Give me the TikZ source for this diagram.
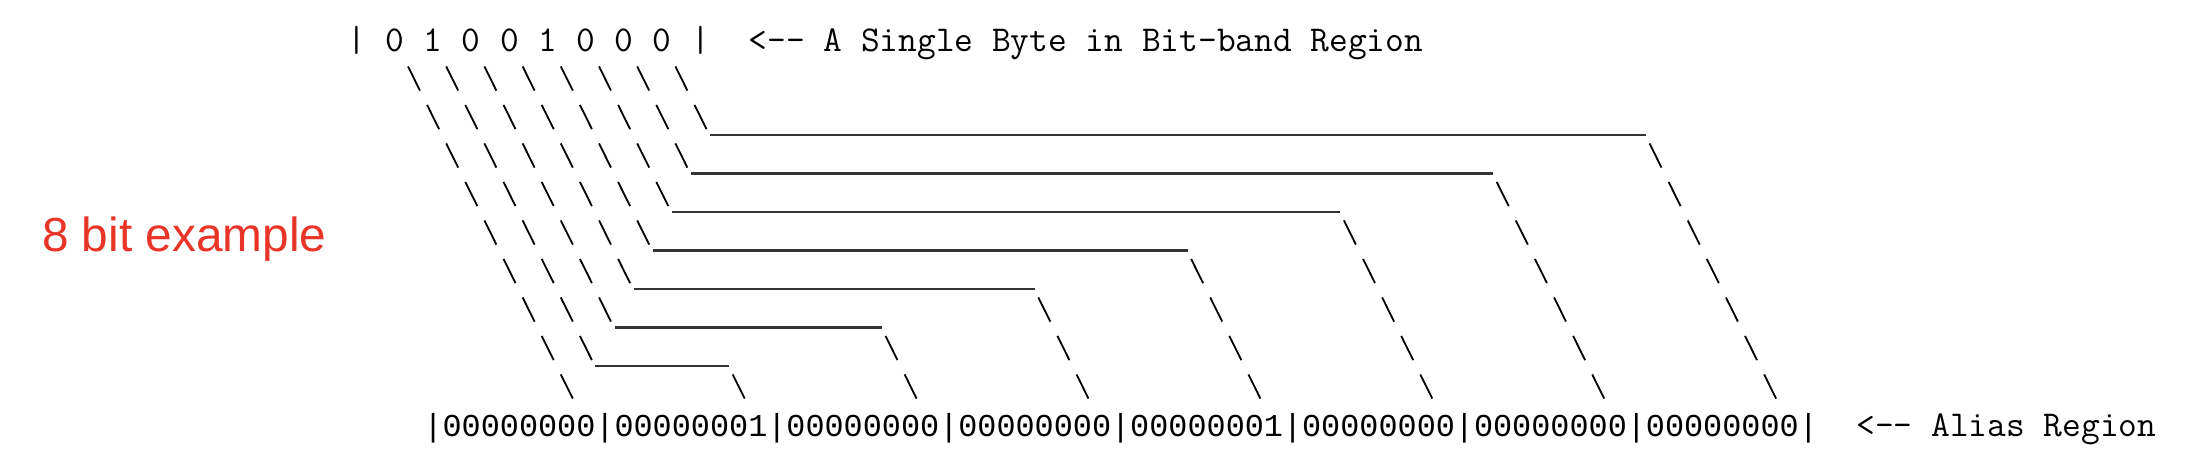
\documentclass[tikz,border=0pt]{standalone}
\usepackage{fontspec}
\usepackage{tikz}
\usetikzlibrary{calc}

\newfontfamily\asciifont{Liberation Mono}
\newfontfamily\notefont{Liberation Sans}
\definecolor{notered}{RGB}{232,53,39}

\tikzset{
  slab/.style={font=\ttfamily\fontsize{18.19pt}{20pt}\selectfont},
  slashes/.style={draw=black,line width=0.9pt,dash pattern=on 13.5pt off 7.99pt},
  uline/.style={draw=black!80,line width=1.1pt}
}

\begin{document}
\begin{tikzpicture}
\useasboundingbox (0,0) rectangle (1096pt,-233pt);

\node[anchor=base west,inner sep=0pt,text=notered,
      font=\notefont\fontsize{23.9pt}{28pt}\selectfont] (E) at (20.85pt,-125.85pt) {8 bit example};

\begin{scope}[shift={(178.35pt,-20pt)},x=9.55pt,y=-19.25pt]
\begin{scope}[every node/.style={inner sep=0pt,anchor=base,
                                 font=\asciifont\fontsize{15.92pt}{18pt}\selectfont}]
    % the byte in the bit-band region
    \node[slab] (L) at (0,0.29) {|};
    \node[slab] (b7) at (2,0.29) {0};
    \node[slab] (b6) at (4,0.29) {1};
    \node[slab] (b5) at (6,0.29) {0};
    \node[slab] (b4) at (8,0.29) {0};
    \node[slab] (b3) at (10,0.29) {1};
    \node[slab] (b2) at (12,0.29) {0};
    \node[slab] (b1) at (14,0.29) {0};
    \node[slab] (b0) at (16,0.29) {0};
    \node[slab] (R) at (18,0.29) {|};
    \node[slab,anchor=base west] (T) at (20.5,0.29) {<-{}- A Single Byte in Bit-band Region};
    % the alias region
    \node (p0) at (4,10.29) {|};
    \node (a7) at (8.5,10.29) {00000000};
    \node (p1) at (13,10.29) {|};
    \node (a6) at (17.5,10.29) {00000001};
    \node (p2) at (22,10.29) {|};
    \node (a5) at (26.5,10.29) {00000000};
    \node (p3) at (31,10.29) {|};
    \node (a4) at (35.5,10.29) {00000000};
    \node (p4) at (40,10.29) {|};
    \node (a3) at (44.5,10.29) {00000001};
    \node (p5) at (49,10.29) {|};
    \node (a2) at (53.5,10.29) {00000000};
    \node (p6) at (58,10.29) {|};
    \node (a1) at (62.5,10.29) {00000000};
    \node (p7) at (67,10.29) {|};
    \node (a0) at (71.5,10.29) {00000000};
    \node (p8) at (76,10.29) {|};
    \node[slab,anchor=base west] (S) at (78.5,10.29) {<-{}- Alias Region};
\end{scope}

\begin{scope}
    \draw[slashes] ($(b7.base)+(0.686,0.396)$) -- ($(a7.base)+(2.814,-0.976)$);

    \draw[slashes] ($(b6.base)+(0.686,0.396)$) -- (12.314,8.314);
    \draw[uline] (12.5,8.47) -- (19.5,8.47);
    \draw[slashes] (19.686,8.686) -- ($(a6.base)+(2.814,-0.976)$);

    \draw[slashes] ($(b5.base)+(0.686,0.396)$) -- (13.314,7.314);
    \draw[uline] (13.5,7.47) -- (27.5,7.47);
    \draw[slashes] (27.686,7.686) -- ($(a5.base)+(2.814,-0.976)$);

    \draw[slashes] ($(b4.base)+(0.686,0.396)$) -- (14.314,6.314);
    \draw[uline] (14.5,6.47) -- (35.5,6.47);
    \draw[slashes] (35.686,6.686) -- ($(a4.base)+(2.814,-0.976)$);

    \draw[slashes] ($(b3.base)+(0.686,0.396)$) -- (15.314,5.314);
    \draw[uline] (15.5,5.47) -- (43.5,5.47);
    \draw[slashes] (43.686,5.686) -- ($(a3.base)+(2.814,-0.976)$);

    \draw[slashes] ($(b2.base)+(0.686,0.396)$) -- (16.314,4.314);
    \draw[uline] (16.5,4.47) -- (51.5,4.47);
    \draw[slashes] (51.686,4.686) -- ($(a2.base)+(2.814,-0.976)$);

    \draw[slashes] ($(b1.base)+(0.686,0.396)$) -- (17.314,3.314);
    \draw[uline] (17.5,3.47) -- (59.5,3.47);
    \draw[slashes] (59.686,3.686) -- ($(a1.base)+(2.814,-0.976)$);

    \draw[slashes] ($(b0.base)+(0.686,0.396)$) -- (18.314,2.314);
    \draw[uline] (18.5,2.47) -- (67.5,2.47);
    \draw[slashes] (67.686,2.686) -- ($(a0.base)+(2.814,-0.976)$);
\end{scope}
\end{scope}
\end{tikzpicture}
\end{document}
